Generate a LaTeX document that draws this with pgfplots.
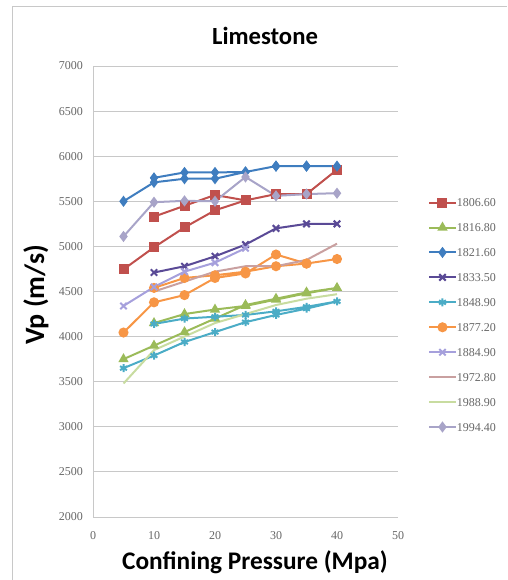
\documentclass[border=0pt]{standalone}
\usepackage{fontspec}
\setmainfont{Carlito}
\newfontfamily\tickfont{Liberation Serif}
\usepackage{pgfplots}
\pgfplotsset{compat=1.18}

\definecolor{cRed}{HTML}{C0504D}
\definecolor{cGreen}{HTML}{9BBB59}
\definecolor{cBlue}{HTML}{3F7DBF}
\definecolor{cPurple}{HTML}{5A4A96}
\definecolor{cTeal}{HTML}{4BACC6}
\definecolor{cOrange}{HTML}{F79646}
\definecolor{cLav}{HTML}{A6A0DC}
\definecolor{cRose}{HTML}{C9A0A0}
\definecolor{cLgreen}{HTML}{C8DCA0}
\definecolor{cGrey}{HTML}{A8A4C8}
\definecolor{gridc}{HTML}{C8C8C8}

\begin{document}
\begin{tikzpicture}
% overall chart area and frame
\useasboundingbox (0,0) rectangle (380.25pt,435pt);
\draw[gridc, line width=0.6pt] (9pt,0pt) -- (9pt,430.5pt) -- (380.25pt,430.5pt);

\node[font=\bfseries\fontsize{18.5}{21}\selectfont] at (198.75pt,408pt) {Limestone};
\node[font=\bfseries\fontsize{21}{24}\selectfont, rotate=90] at (27pt,213.75pt) {Vp (m/s)};
\node[font=\bfseries\fontsize{19}{22}\selectfont] at (191.25pt,13.5pt) {Confining Pressure (Mpa)};

\begin{axis}[
  at={(69.75pt,47.25pt)}, anchor=south west,
  scale only axis, width=228.75pt, height=338.25pt,
  xmin=0, xmax=50, ymin=2000, ymax=7000,
  xtick={0,10,...,50}, ytick={2000,2500,...,7000},
  axis x line*=bottom, axis y line*=left,
  axis line style={gridc, line width=0.6pt},
  ymajorgrids, grid style={gridc, line width=0.6pt},
  major tick length=0pt,
  /pgf/number format/assume math mode=true,
  /pgf/number format/1000 sep={},
  tick label style={font=\tickfont\fontsize{9}{10}\selectfont, text=black!60},
  yticklabel style={xshift=-4pt},
  xticklabel style={yshift=-7.5pt},
  legend style={at={(1.098,0.707)}, anchor=north west, draw=none, fill=none,
    font=\tickfont\fontsize{9}{10}\selectfont, text=black!60,
    nodes={inner sep=0pt, text height=6.3pt, text depth=0pt},
    row sep=12.4pt, inner sep=0pt},
  legend cell align=left,
  legend image code/.code={\draw[#1] (0pt,0pt) -- (20pt,0pt); \draw[#1, only marks] plot coordinates {(10pt,0pt)};},
  every axis plot/.append style={line width=1.5pt, mark size=3pt},
]
% 1806.60
\addplot[cRed, mark=square*, mark options={fill=cRed}] coordinates {
 (5,4745) (10,4990) (15,5210) (20,5400) (25,5510) (30,5580) (35,5580) (40,5850)
 (35,5580) (30,5580) (25,5510) (20,5570) (15,5450) (10,5330)};
\addlegendentry{1806.60}
% 1816.80
\addplot[cGreen, mark=triangle*, mark options={fill=cGreen}] coordinates {
 (5,3750) (10,3900) (15,4050) (20,4200) (25,4350) (30,4420) (35,4490) (40,4540)
 (35,4480) (30,4410) (25,4340) (20,4300) (15,4250) (10,4150)};
\addlegendentry{1816.80}
% 1821.60
\addplot[cBlue, mark=diamond*, mark options={fill=cBlue}] coordinates {
 (5,5500) (10,5710) (15,5750) (20,5750) (25,5825) (30,5890) (35,5890) (40,5890)
 (35,5890) (30,5890) (25,5825) (20,5820) (15,5820) (10,5760)};
\addlegendentry{1821.60}
% 1833.50
\addplot[cPurple, mark=x, mark size=3.4pt] coordinates {
 (10,4710) (15,4780) (20,4890) (25,5020) (30,5200) (35,5250) (40,5250)};
\addlegendentry{1833.50}
% 1848.90
\addplot[cTeal, mark=asterisk] coordinates {
 (5,3650) (10,3790) (15,3940) (20,4050) (25,4160) (30,4240) (35,4310) (40,4390)
 (35,4330) (30,4280) (25,4240) (20,4220) (15,4200) (10,4140)};
\addlegendentry{1848.90}
% 1877.20
\addplot[cOrange, mark=*, mark options={fill=cOrange}] coordinates {
 (5,4045) (10,4380) (15,4460) (20,4650) (25,4700) (30,4910) (35,4810) (40,4860)
 (35,4810) (30,4780) (25,4720) (20,4680) (15,4650) (10,4540)};
\addlegendentry{1877.20}
% 1884.90
\addplot[cLav, mark=x, mark size=3.4pt] coordinates {
 (5,4340) (10,4550) (15,4720) (20,4820) (25,4980)};
\addlegendentry{1884.90}
% 1972.80
\addplot[cRose, no markers] coordinates {
 (10,4500) (15,4610) (20,4720) (25,4780) (30,4780) (35,4850) (40,5030)};
\addlegendentry{1972.80}
% 1988.90
\addplot[cLgreen, no markers] coordinates {
 (5,3480) (10,3850) (15,4000) (20,4150) (25,4250) (30,4350) (35,4420) (40,4470)};
\addlegendentry{1988.90}
% 1994.40
\addplot[cGrey, mark=diamond*, mark options={fill=cGrey}] coordinates {
 (5,5110) (10,5490) (15,5505) (20,5500) (25,5770) (30,5560) (35,5580) (40,5590)};
\addlegendentry{1994.40}
\end{axis}
\end{tikzpicture}
\end{document}
